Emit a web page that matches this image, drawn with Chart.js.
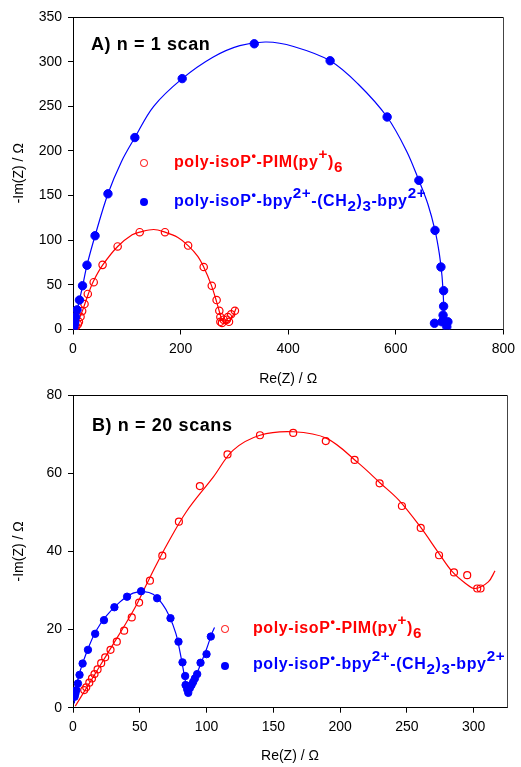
<!DOCTYPE html>
<html>
<head>
<meta charset="utf-8">
<script src="https://cdn.jsdelivr.net/npm/chart.js@4.4.1/dist/chart.umd.min.js"></script>
<style>
  html, body { margin: 0; padding: 0; background: #fff; }
  body { width: 521px; height: 767px; position: relative; overflow: hidden; font-family: "Liberation Sans", Arial, sans-serif; }
  .panel { position: absolute; left: 0; width: 521px; }
  .panel canvas { position: absolute; left: 0; top: 0; }
  .txt { position: absolute; white-space: nowrap; line-height: 1; font-weight: bold; }
  .txt .up { position: relative; top: -0.5em; font-size: 0.95em; }
  .txt .dot { position: relative; top: -0.55em; font-size: 0.8em; }
  .txt .dn { position: relative; top: 0.3em; font-size: 0.95em; }
  .title { font-size: 18px; color: #000; letter-spacing: 0.6px; }
  .leg { font-size: 16px; letter-spacing: 0.6px; }
  .red { color: #ff0000; }
  .blue { color: #0000ff; }
  .mk { position: absolute; border-radius: 50%; box-sizing: border-box; }
</style>
</head>
<body>
<div class="panel" style="top:0;height:390px"><canvas id="chartA" width="521" height="390"></canvas></div>
<div class="panel" style="top:380px;height:387px"><canvas id="chartB" width="521" height="387"></canvas></div>

<div class="txt title" style="left:91px;top:35px">A) n = 1 scan</div>
<span class="mk" style="left:140px;top:159px;width:7.5px;height:7.5px;border:1.2px solid #ff0000"></span>
<div class="txt leg red" style="left:174px;top:154px">poly-isoP<span class="dot">•</span>-PIM(py<span class="up">+</span>)<span class="dn">6</span></div>
<span class="mk" style="left:140px;top:198px;width:8px;height:8px;background:#0000ff"></span>
<div class="txt leg blue" style="left:174px;top:193px">poly-isoP<span class="dot">•</span>-bpy<span class="up">2+</span>-(CH<span class="dn">2</span>)<span class="dn">3</span>-bpy<span class="up">2+</span></div>

<div class="txt title" style="left:92px;top:416px">B) n = 20 scans</div>
<span class="mk" style="left:221px;top:625px;width:7.5px;height:7.5px;border:1.2px solid #ff0000"></span>
<div class="txt leg red" style="left:253px;top:620px">poly-isoP<span class="dot">•</span>-PIM(py<span class="up">+</span>)<span class="dn">6</span></div>
<span class="mk" style="left:220.5px;top:662px;width:8px;height:8px;background:#0000ff"></span>
<div class="txt leg blue" style="left:253px;top:656px">poly-isoP<span class="dot">•</span>-bpy<span class="up">2+</span>-(CH<span class="dn">2</span>)<span class="dn">3</span>-bpy<span class="up">2+</span></div>

<script>
// Panel A: n = 1 scan
const xTicksA = [0, 200, 400, 600, 800];
const yTicksA = [0, 50, 100, 150, 200, 250, 300, 350];

const redAx = [1, 3.5, 6, 9, 11, 14, 17, 21.4, 27.5, 38.5, 55, 83, 124, 171, 214, 243, 258, 267, 272, 274, 274, 277, 280, 286, 288, 290, 294, 301];
const redAy = [0.5, 1.5, 3.7, 6, 8.6, 14.2, 20.6, 28.5, 39.8, 53, 72.4, 93, 109, 109, 94, 70, 49, 33, 21, 14, 8.6, 7.4, 11, 11, 14, 8.6, 17, 21];
const redFitAx = [0, 5, 10, 17, 28, 38, 55, 83, 110, 124, 150, 171, 195, 214, 232, 243, 257, 267, 273, 277, 283, 290, 297, 304];
const redFitAy = [0, 4, 10, 20, 39, 54, 72, 93, 106, 109, 112, 109, 103, 94, 82, 70, 50, 31, 18, 10.5, 6.8, 9, 15, 25];

const blueAx = [0.5, 1.5, 2.5, 3.5, 4.8, 7.5, 12, 17.7, 26, 41, 65, 115, 203, 337, 478, 584, 643, 673, 684, 689, 689, 688, 672, 686, 697, 695];
const blueAy = [1, 3, 6, 9, 14, 22, 33, 49, 72, 105, 152, 215, 281, 320, 301, 238, 167, 111, 70, 43.5, 26, 16, 7, 8.6, 8.6, 3];
const blueFitAx = [0, 5, 12, 18, 26, 41, 65, 90, 115, 150, 203, 260, 310, 360, 410, 478, 530, 584, 620, 643, 660, 673, 681, 686, 689, 690];
const blueFitAy = [0, 14, 33, 49, 72, 105, 152, 188, 215, 250, 281, 305, 318, 322, 317, 301, 275, 238, 200, 167, 140, 111, 85, 60, 30, 5];

// Panel B: n = 20 scans
const xTicksB = [0, 50, 100, 150, 200, 250, 300];
const yTicksB = [0, 20, 40, 60, 80];

const redBx = [8.4, 9.9, 12.2, 14.2, 16.1, 18.4, 21.1, 24.1, 28.1, 32.8, 38.3, 44, 49.5, 57.6, 66.9, 79.3, 95, 115.7, 140, 164.9, 189.3, 210.9, 229.6, 246.3, 260.4, 274.1, 285.3, 295.2, 302.7, 305.2];
const redBy = [4.5, 5.2, 6.4, 7.5, 8.6, 9.8, 11.4, 12.9, 14.8, 16.9, 19.7, 23.1, 26.9, 32.5, 38.9, 47.6, 56.7, 64.8, 69.7, 70.3, 68.2, 63.4, 57.4, 51.6, 46, 39, 34.6, 33.9, 30.5, 30.5];
const redFitBx = [1.7, 10, 20, 30, 40, 48, 55, 62, 70, 85, 105, 120, 140, 165, 190, 214, 230, 244, 260, 274, 284, 294, 301, 311, 316];
const redFitBy = [0.4, 5, 10.6, 16.2, 21.8, 26.6, 31.5, 36.3, 41.5, 50.2, 59, 65.9, 69.7, 70.6, 68.9, 62.5, 57.5, 53.1, 46.3, 39.5, 34.8, 31.8, 30.5, 32.2, 35];

const blueBx = [1.2, 1.8, 2.5, 3.7, 4.9, 7.2, 11.2, 16.6, 23.2, 31, 40.5, 51, 63, 73, 79, 82, 84, 84.3, 85.5, 86.3, 87.5, 88.8, 90, 91.3, 93, 95.5, 100, 103.2];
const blueBy = [2.8, 3.6, 4.5, 6.2, 8.4, 11.3, 14.8, 18.9, 22.4, 25.7, 28.4, 29.8, 28, 22.9, 16.9, 11.6, 8.1, 5.8, 4.7, 3.8, 5, 5.8, 6.6, 7.5, 8.6, 11.5, 13.7, 18.2];
const blueFitBx = [1, 2, 5, 10, 17, 25, 35, 45, 53, 60, 67, 72, 77, 80, 83, 85, 87, 89, 92, 96, 100, 104, 106];
const blueFitBy = [1.1, 4.5, 9, 14, 19.5, 23.5, 27, 29.3, 29.7, 29, 26.5, 23.5, 19, 14.5, 9, 5.5, 4.3, 5.3, 8, 11.5, 15, 19, 20.5];

const RED = '#ff0000';
const BLUE = '#0000ff';
const FONT = { family: '"Liberation Sans", Arial, sans-serif', size: 14 };

const pts = (xs, ys) => xs.map((x, i) => ({ x, y: ys[i] }));

const fitLine = (xs, ys, color) => ({
  data: pts(xs, ys), showLine: true, borderColor: color, borderWidth: 1.2,
  pointRadius: 0, tension: 0.35, fill: false, order: 2,
});
const openDots = (xs, ys, color, r) => ({
  data: pts(xs, ys), showLine: false, pointRadius: r, pointStyle: 'circle',
  borderColor: color, backgroundColor: 'rgba(0,0,0,0)', pointBorderWidth: 1.2, order: 1,
});
const filledDots = (xs, ys, color, r) => ({
  data: pts(xs, ys), showLine: false, pointRadius: r, pointStyle: 'circle',
  borderColor: color, backgroundColor: color, pointBorderWidth: 1, order: 1,
});

const framePlugin = {
  id: 'frame',
  afterDatasetsDraw(chart) {
    const { ctx, chartArea: a } = chart;
    ctx.save();
    ctx.lineWidth = 1;
    ctx.strokeStyle = '#000';
    ctx.beginPath();
    ctx.moveTo(a.left, Math.round(a.top) + 0.5);
    ctx.lineTo(Math.round(a.right) + 0.5, Math.round(a.top) + 0.5);
    ctx.stroke();
    ctx.strokeStyle = '#444';
    ctx.beginPath();
    ctx.moveTo(Math.round(a.right) + 0.5, Math.round(a.top) + 0.5);
    ctx.lineTo(Math.round(a.right) + 0.5, a.bottom);
    ctx.stroke();
    ctx.restore();
  },
};

function axis(min, max, ticks, title, isX, size, titlePad) {
  return {
    type: 'linear', min, max,
    afterBuildTicks: (s) => { s.ticks = ticks.map((v) => ({ value: v })); },
    afterFit: (s) => { if (isX) s.height = size; else s.width = size; },
    ticks: { font: FONT, color: '#000', padding: 6 },
    grid: { drawOnChartArea: false, drawTicks: true, tickLength: 5, color: '#000' },
    border: { display: true, color: '#000', width: 1 },
    title: { display: true, text: title, font: FONT, color: '#000', padding: titlePad },
  };
}

function makeChart(id, datasets, xs, ys, pad, xh) {
  return new Chart(document.getElementById(id), {
    type: 'scatter',
    data: { datasets },
    options: {
      responsive: false, animation: false, devicePixelRatio: 1,
      layout: { padding: pad },
      plugins: { legend: { display: false }, tooltip: { enabled: false } },
      scales: {
        x: axis(xs[0], xs[1], xs[2], 'Re(Z) / Ω', true, xh, { top: 0, bottom: 2 }),
        y: axis(ys[0], ys[1], ys[2], '-Im(Z) / Ω', false, 73, { top: 11, bottom: 0 }),
      },
    },
    plugins: [framePlugin],
  });
}

makeChart('chartA', [
  fitLine(blueFitAx, blueFitAy, BLUE),
  fitLine(redFitAx, redFitAy, RED),
  filledDots(blueAx, blueAy, BLUE, 4.2),
  openDots(redAx, redAy, RED, 3.7),
], [0, 800, xTicksA], [0, 350, yTicksA], { top: 17, right: 13, left: 0, bottom: 0 }, 60.5);

makeChart('chartB', [
  fitLine(blueFitBx, blueFitBy, BLUE),
  fitLine(redFitBx, redFitBy, RED),
  filledDots(blueBx, blueBy, BLUE, 3.7),
  openDots(redBx, redBy, RED, 3.5),
], [0, 325, xTicksB], [0, 80, yTicksB], { top: 15, right: 14, left: 0, bottom: 0 }, 59.3);
</script>
</body>
</html>
